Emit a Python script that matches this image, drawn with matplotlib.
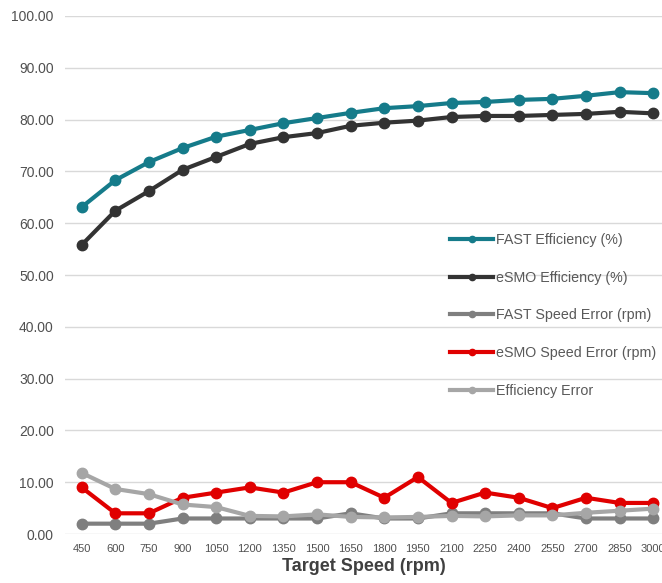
import matplotlib.pyplot as plt
import numpy as np

plt.rcParams['font.family'] = ['Liberation Sans', 'DejaVu Sans']

# 数据
speeds = ['450', '600', '750', '900', '1050', '1200', '1350', '1500', '1650',
          '1800', '1950', '2100', '2250', '2400', '2550', '2700', '2850', '3000']
fast_eff = [63.1, 68.3, 71.8, 74.5, 76.7, 78.0, 79.3, 80.3, 81.3,
            82.2, 82.6, 83.2, 83.4, 83.8, 84.0, 84.6, 85.3, 85.1]
esmo_eff = [55.8, 62.4, 66.2, 70.3, 72.8, 75.3, 76.6, 77.4, 78.8,
            79.4, 79.8, 80.5, 80.7, 80.7, 80.9, 81.1, 81.5, 81.2]
fast_err = [2, 2, 2, 3, 3, 3, 3, 3, 4, 3, 3, 4, 4, 4, 4, 3, 3, 3]
esmo_err = [9, 4, 4, 7, 8, 9, 8, 10, 10, 7, 11, 6, 8, 7, 5, 7, 6, 6]
eff_err = [11.8, 8.7, 7.7, 5.7, 5.2, 3.5, 3.4, 3.8, 3.3,
           3.2, 3.3, 3.5, 3.4, 3.6, 3.6, 4.1, 4.5, 4.9]

series = [
    ('FAST Efficiency (%)', fast_eff, '#157b8a'),
    ('eSMO Efficiency (%)', esmo_eff, '#333333'),
    ('FAST Speed Error (rpm)', fast_err, '#7f7f7f'),
    ('eSMO Speed Error (rpm)', esmo_err, '#e00000'),
    ('Efficiency Error', eff_err, '#a6a6a6'),
]

fig = plt.figure(figsize=(6.62, 5.83), dpi=100)
ax = fig.add_axes([0.098, 0.084, 0.902, 0.8886])

x = np.arange(len(speeds))
for label, vals, color in series:
    ax.plot(x, vals, color=color, lw=3, marker='o', ms=7.5, label=label, zorder=3)

ax.set_xlim(-0.5, 17.26)
ax.set_ylim(0, 100)
ax.set_yticks(np.arange(0, 101, 10))
ax.set_yticklabels(['%.2f' % v for v in np.arange(0, 101, 10)])
ax.set_xticks(x)
ax.set_xticklabels(speeds)
ax.grid(axis='y', color='#d9d9d9', lw=1)
ax.set_axisbelow(True)
for s in ax.spines.values():
    s.set_visible(False)
ax.tick_params(axis='y', length=0, labelsize=10, labelcolor='#505050', pad=8)
ax.tick_params(axis='x', length=0, labelsize=8, labelcolor='#505050', pad=7)
ax.set_xlabel('Target Speed (rpm)', fontsize=13, fontweight='bold', color='#404040', labelpad=3)

leg = ax.legend(loc='upper left', bbox_to_anchor=(0.68, 0.6), bbox_transform=fig.transFigure,
                frameon=False, fontsize=10.3, labelspacing=1.65, handlelength=3.0,
                handletextpad=0.2, borderpad=0, borderaxespad=0, markerscale=0.6)
for t in leg.get_texts():
    t.set_color('#595959')

fig.savefig('out.png', dpi=100)
